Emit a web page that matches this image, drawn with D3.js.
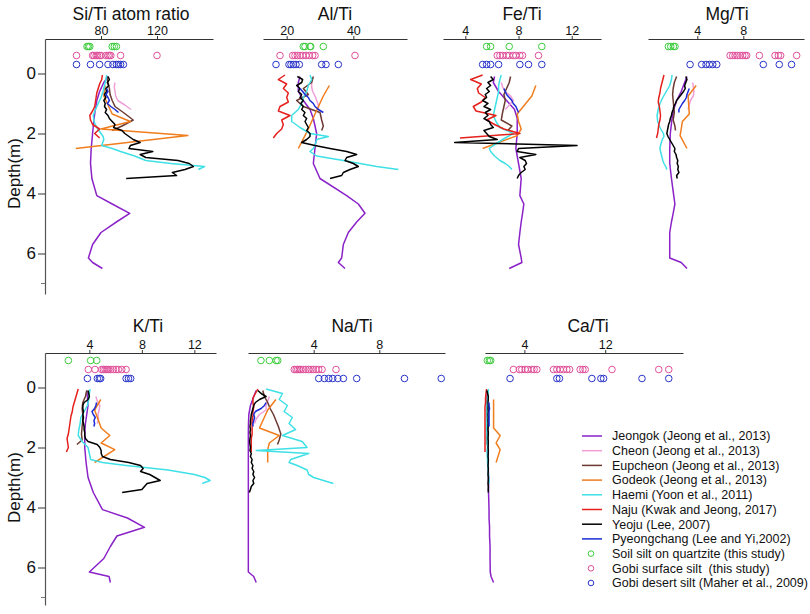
<!DOCTYPE html>
<html><head><meta charset="utf-8">
<script src="https://cdn.jsdelivr.net/npm/d3@7"></script>
<style>
body{margin:0;background:#fff;}
text{font-family:"Liberation Sans",Arial,Helvetica,sans-serif;fill:#111;}
</style>
</head><body>
<svg id="chart" width="810" height="614"></svg>
<script>
// ---------------- DATA ----------------
const siteNames = ["Jeongok (Jeong et al., 2013)","Cheon (Jeong et al., 2013)","Eupcheon (Jeong et al., 2013)","Godeok (Jeong et al., 2013)","Haemi (Yoon et al., 2011)","Naju (Kwak and Jeong, 2017)","Yeoju (Lee, 2007)","Pyeongchang (Lee and Yi,2002)"];
const siteKeys = ["jeongok","cheon","eupcheon","godeok","haemi","naju","yeoju","pyeongchang"];
const pointNames = ["Soil silt on quartzite (this study)","Gobi surface silt  (this study)","Gobi desert silt (Maher et al., 2009)"];
const pointKeys = ["soil","gobiSurface","gobiDesert"];
const pointDepths = [-0.9, -0.6, -0.3];

const depthJeongok = [0.1,0.3,0.6,0.9,1.2,1.5,2.0,2.5,3.0,3.5,4.07,4.35,4.66,4.95,5.3,5.7,6.15,6.3,6.5];
const depthCheon = [0.3,0.45,0.6,0.75,0.9,1.05,1.2];
const depthEupcheon = [0.1,0.3,0.5,0.7,0.9,1.1,1.3,1.55,1.75,1.9];
const depthGodeok = [0.4,0.75,1.35,1.6,1.85,2.07,2.5];
const depthHaemi = [0.05,0.2,0.4,0.6,0.8,1.0,1.2,1.4,1.6,1.8,2.0,2.1,2.2,2.4,2.5,2.6,2.75,2.9,3.0,3.1,3.2];
const depthNaju = [0.05,0.2,0.35,0.5,0.65,0.8,0.95,1.1,1.25,1.4,1.55,1.7,1.85,2.0,2.15];
const depthYeoju = [0.1,0.2,0.3,0.4,0.5,0.6,0.7,0.8,0.9,1.0,1.1,1.2,1.3,1.4,1.5,1.6,1.7,1.8,1.9,2.0,2.1,2.2,2.3,2.4,2.5,2.6,2.7,2.8,2.9,3.0,3.1,3.2,3.3,3.4,3.5];
const depthPyeongchang = [0.5,0.6,0.7,0.8,0.9,1.0,1.1,1.2,1.3];
const siteDepths = [depthJeongok,depthCheon,depthEupcheon,depthGodeok,depthHaemi,depthNaju,depthYeoju,depthPyeongchang];

const siTi = {
  jeongok:[85,82,79,77,76,75,74,73,72.5,73.5,77,88,100.5,91,80,74,71,74,81],
  cheon:[90,89.5,90,90.5,92,97,101.5],
  eupcheon:[84,85,86,86.5,88,90,96,103,95,88],
  godeok:[83,82,88,101,80,142,62],
  haemi:[84,83.5,82.5,81.5,80,78,76,74.5,75,77,80,81.5,82,80.5,88,94,104,112,130,154,149.5],
  naju:[81,80.5,79,78,77,76.5,76,75.5,74,72,72.5,74,79,75.5,79],
  yeoju:[85,86,84.5,85.5,83.5,84,82.5,83.5,82,83,82.5,84,83,85,86,88,90,89,95,97,100,103,108,101,100,117,108,112,135,143,146,140,131,134,98],
  pyeongchang:[84,85,83.5,85,86,84.5,87,90,92.5],
  soil:[70,71,72,88,89.5,91],
  gobiSurface:[62.5,74,75,76.5,77.5,79,80,83.5,85,86,87,94,120],
  gobiDesert:[62.5,72.5,79,85,88.5,91,92.5,94,96]
};
const alTi = {
  jeongok:[24,23.5,23.5,25,27,28,29,28.5,28,30,38,41.5,43.5,41,38.5,37,36.5,35.5,37.5],
  cheon:[27.5,27.5,27.8,28.5,29,29.5,29.5],
  eupcheon:[28,27.5,25,26.5,23,25,30,30.5,31,30.5],
  godeok:[32.8,31,28.5,27.5,26.5,25.5,23.5],
  haemi:[27,27.5,26.5,26,25,24.5,23.5,21.5,21.5,24,27,32.5,29,28.5,28,27,29,37,42,47,53.5],
  naju:[19.5,17.5,20,19,20.5,20,20.5,18,17.5,21,18.5,19,18.5,17,16],
  yeoju:[23.2,24.8,24.5,23,24,23.5,24.5,24,25,24.2,25,24.5,25.5,25,26,25.5,26,26.5,26,27,27,26,24.5,28.5,33,38,41,38,37.5,40,41.5,39,37,36.5,33],
  pyeongchang:[24,24.8,25.5,26.5,27,28,28.5,29.5,31],
  soil:[25,25.5,27,27.2,31],
  gobiSurface:[18,21.8,22.5,23.2,24,24.8,25.8,26.8,27.8,28.5,40.5],
  gobiDesert:[16.8,20.7,21.3,22,22.8,23.8,30.5,31.8,35.5]
};
const feTi = {
  jeongok:[6.2,6.1,6.5,7.1,7.7,7.9,7.9,7.8,8.0,8.2,8.1,8.4,8.3,8.2,8.1,8.0,8.2,8.25,7.3],
  cheon:[6.7,6.8,7.0,7.4,7.6,7.3,7.0],
  eupcheon:[7.4,7.3,7.1,6.9,7.0,6.9,6.8,6.7,7.5,7.2],
  godeok:[9.3,9.0,7.9,8.0,8.2,7.9,5.3],
  haemi:[6.7,6.6,6.5,6.5,6.4,6.3,6.2,6.1,6.3,6.6,7.6,7.2,6.8,6.1,5.8,5.9,6.2,6.6,7.0,7.3,7.5],
  naju:[5.3,4.4,5.2,4.9,5.0,5.5,5.2,4.6,4.8,6.3,5.6,6.2,6.9,8.1,3.6],
  yeoju:[5.9,6.1,5.7,5.9,5.6,5.8,5.5,5.6,5.3,5.7,5.4,5.9,5.5,5.7,5.4,5.8,5.9,6.1,5.4,5.6,5.8,6.4,3.2,12.4,8.0,7.9,9.3,8.1,8.5,8.6,8.4,8.5,8.2,8.0,7.9],
  pyeongchang:[6.9,7.0,7.1,7.3,7.5,7.6,7.8,7.9,8.0],
  soil:[5.6,5.9,7.3,9.75],
  gobiSurface:[6.4,6.6,6.8,7.1,7.3,7.6,7.8,8.1,8.3,9.5],
  gobiDesert:[5.3,5.6,5.9,6.5,8.1,8.75,9.75]
};
const mgTi = {
  jeongok:[3.1,2.9,2.6,2.2,1.95,1.8,1.65,1.6,1.6,1.75,1.95,2.05,1.9,1.75,1.6,1.6,1.6,2.6,3.1],
  cheon:[3.6,3.65,3.7,3.65,3.4,3.3,3.2],
  eupcheon:[2.2,2.0,1.9,1.85,1.9,1.95,2.0,1.9,2.05,2.1],
  godeok:[3.9,3.2,3.3,2.7,2.6,2.5,3.1],
  haemi:[1.8,1.75,1.6,1.3,1.0,0.75,0.6,0.5,0.55,0.75,1.05,1.1,0.95,0.8,0.75,0.8,0.9,1.0,1.1,1.25,1.35],
  naju:[1.1,1.0,0.9,0.8,0.75,0.65,0.6,0.7,0.75,0.8,0.75,0.65,0.6,0.55,0.45],
  yeoju:[3.0,3.1,3.0,2.9,2.95,2.8,2.6,2.4,2.2,2.1,1.95,1.9,1.8,1.75,1.65,1.6,1.5,1.45,1.4,1.35,1.45,1.6,1.75,1.9,2.05,2.0,2.15,2.2,2.3,2.25,2.35,2.3,2.4,2.2,2.25],
  pyeongchang:[3.3,3.2,3.1,3.05,2.9,2.7,2.55,2.4,2.4],
  soil:[1.48,1.69,1.92,2.06],
  gobiSurface:[6.85,7.08,7.28,7.48,7.71,7.95,8.15,8.29,9.4,10.76,11.05,11.25,12.64],
  gobiDesert:[3.37,4.38,4.76,5.05,5.34,5.69,9.74,11.13,12.2]
};
const kTi = {
  jeongok:[3.8,3.85,3.9,3.8,3.7,3.65,3.65,3.75,3.9,4.3,5.0,6.9,8.2,6.1,5.6,5.1,4.0,5.5,5.6],
  cheon:[4.5,4.6,4.8,4.75,4.65,4.7,4.6],
  eupcheon:[3.8,3.7,3.5,3.45,3.5,3.5,3.45,3.4,3.45,3.05],
  godeok:[4.87,4.4,4.9,5.56,4.9,5.94,4.4],
  haemi:[4.05,4.0,3.95,3.85,3.6,3.35,3.3,3.2,3.15,3.45,3.9,3.95,4.0,4.1,5.0,6.8,10.0,12.0,12.8,13.2,12.6],
  naju:[3.15,3.05,2.95,2.85,2.75,2.7,2.6,2.55,2.5,2.45,2.4,2.3,2.35,2.4,2.25],
  yeoju:[3.9,3.95,4.0,3.9,3.6,3.5,3.5,3.55,3.5,3.55,3.5,3.55,3.6,3.6,3.65,3.65,3.7,3.9,4.6,4.8,4.9,4.9,5.0,5.6,7.0,7.9,8.1,7.9,8.6,9.0,9.4,8.4,8.2,8.0,6.5],
  pyeongchang:[4.55,4.5,4.4,4.2,4.3,4.45,4.35,4.4,4.35],
  soil:[2.4,4.1,4.56],
  gobiSurface:[3.92,4.43,4.94,5.07,5.2,5.32,5.45,5.63,5.83,6.03,6.21,6.47,6.8],
  gobiDesert:[3.85,4.61,4.76,4.86,6.8,6.98,7.15]
};
const naTi = {
  jeongok:[0.5,0.35,0.15,0.05,0.03,0.02,0.02,0.02,0.02,0.02,0.02,0.02,0.02,0.02,0.02,0.02,0.02,0.35,0.5],
  cheon:[1.3,1.2,1.1,1.1,0.7,0.5,0.4],
  eupcheon:[0.9,1.0,1.2,1.35,1.55,1.7,1.85,2.0,1.9,1.8],
  godeok:[1.7,1.2,0.7,1.9,1.3,1.2,1.2],
  haemi:[1.1,2.1,1.9,2.4,2.2,2.7,2.5,2.9,2.1,3.3,3.6,0.5,3.7,2.6,2.5,3.0,3.6,3.7,4.0,4.6,5.2],
  naju:[0.6,0.45,0.3,0.3,0.35,0.3,0.3,0.25,0.25,0.25,0.25,0.2,0.2,0.2,0.2],
  yeoju:[0.6,0.8,1.1,0.7,0.45,0.35,0.3,0.25,0.2,0.18,0.15,0.15,0.12,0.15,0.12,0.15,0.12,0.1,0.12,0.15,0.12,0.2,0.15,0.25,0.2,0.3,0.25,0.35,0.3,0.4,0.3,0.35,0.2,0.15,0.08],
  pyeongchang:[1.1,1.0,0.8,0.45,0.35,0.4,0.35,0.3,0.3],
  soil:[0.79,1.3,1.71,1.81],
  gobiSurface:[2.82,2.93,3.03,3.13,3.23,3.37,3.53,3.7,3.84,3.98,4.14,4.31,4.51,5.36],
  gobiDesert:[4.31,4.65,4.92,5.16,5.47,5.81,6.62,9.53,11.77]
};
const caTi = {
  jeongok:[0.35,0.3,0.3,0.3,0.35,0.35,0.4,0.4,0.45,0.45,0.5,0.5,0.55,0.55,0.6,0.6,0.62,0.7,0.95],
  cheon:[0.3,0.3,0.35,0.35,0.3,0.3,0.3],
  eupcheon:[0.4,0.35,0.3,0.3,0.3,0.3,0.3,0.3,0.3,0.3],
  godeok:[0.95,0.95,0.95,1.6,1.2,1.6,1.2],
  haemi:[0.45,0.4,0.35,0.3,0.3,0.3,0.25,0.25,0.3,0.3,0.35,0.3,0.3,0.35,0.35,0.4,0.4,0.45,0.45,0.5,0.5],
  naju:[0.25,0.2,0.15,0.15,0.1,0.1,0.1,0.1,0.1,0.1,0.1,0.1,0.1,0.1,0.1],
  yeoju:[0.27,0.35,0.43,0.42,0.4,0.42,0.4,0.43,0.4,0.42,0.4,0.43,0.42,0.4,0.43,0.42,0.4,0.43,0.42,0.4,0.43,0.42,0.4,0.43,0.42,0.4,0.43,0.42,0.4,0.43,0.42,0.4,0.43,0.42,0.43],
  pyeongchang:[0.5,0.5,0.55,0.5,0.5,0.5,0.5,0.5,0.5],
  soil:[0.33,0.53,0.66],
  gobiSurface:[2.91,3.51,3.74,4.07,4.33,4.73,4.96,5.23,6.88,7.21,7.54,7.87,8.2,8.47,9.52,9.79,10.02,12.67,17.3,18.29],
  gobiDesert:[2.58,7.21,7.47,10.68,11.57,11.84,15.64,18.29]
};
const depthTicks = [0,2,4,6];

// ---------------- STYLE / LAYOUT ----------------
const siteColors = ["#8a22c8","#ef9fd8","#6b3a32","#f07d1e","#3fe0e6","#e5211d","#000000","#1b2bd6"];
const pointColors = ["#3ccc3c","#e0509a","#2a34c8"];
const rows = [{top:39, bottom:294, titleY:19.5}, {top:353, bottom:605, titleY:332}];
const depthDomains = [[-1.15,7.35],[-1.15,7.25]];
const panels = [
  {title:"Si/Ti atom ratio", data:siTi, domain:[40,160], ticks:[80,120], row:0, x0:45, x1:213, tx:131, yAxis:true},
  {title:"Al/Ti", data:alTi, domain:[12.9,56.1], ticks:[20,40], row:0, x0:263, x1:407, tx:335},
  {title:"Fe/Ti", data:feTi, domain:[2.32,14.2], ticks:[4,8,12], row:0, x0:443, x1:601, tx:522},
  {title:"Mg/Ti", data:mgTi, domain:[-0.29,13.28], ticks:[4,8], row:0, x0:648, x1:804, tx:727},
  {title:"K/Ti", data:kTi, domain:[0.62,13.65], ticks:[4,8,12], row:1, x0:45, x1:216, tx:148, yAxis:true},
  {title:"Na/Ti", data:naTi, domain:[0,12], ticks:[4,8], row:1, x0:248, x1:445, tx:352},
  {title:"Ca/Ti", data:caTi, domain:[0.1,19.7], ticks:[4,12], row:1, x0:485, x1:683, tx:588}
];

const svg = d3.select("#chart");
svg.append("rect").attr("width",810).attr("height",614).attr("fill","#fff");

panels.forEach(p => {
  const r = rows[p.row];
  const x = d3.scaleLinear().domain(p.domain).range([p.x0, p.x1]);
  const y = d3.scaleLinear().domain(depthDomains[p.row]).range([r.top, r.bottom]);
  const g = svg.append("g");

  // top axis
  const ax = g.append("g").attr("transform",`translate(0,${r.top})`)
    .call(d3.axisTop(x).tickValues(p.ticks).tickSize(3).tickSizeOuter(0).tickPadding(1.5));
  ax.select(".domain").attr("stroke","#333").attr("stroke-width",1.2);
  ax.selectAll(".tick line").attr("stroke","#333");
  ax.selectAll(".tick text").attr("font-size",12.5).attr("fill","#111")
    .style("font-family","'Liberation Sans',Arial,sans-serif");

  // title
  g.append("text").attr("x",p.tx).attr("y",r.titleY).attr("text-anchor","middle")
    .attr("font-size",17.5).text(p.title);

  if (p.yAxis) {
    const ay = g.append("g").attr("transform",`translate(${p.x0},0)`)
      .call(d3.axisLeft(y).tickValues(depthTicks).tickSize(7).tickSizeOuter(0).tickPadding(2).tickFormat(d3.format("d")));
    ay.select(".domain").attr("stroke","#555").attr("stroke-width",1.2);
    ay.selectAll(".tick line").attr("stroke","#333");
    ay.selectAll(".tick text").attr("font-size",17).attr("fill","#111")
      .style("font-family","'Liberation Sans',Arial,sans-serif");
    g.append("line").attr("x1",p.x0-4).attr("x2",p.x0).attr("y1",y(7)).attr("y2",y(7))
      .attr("stroke","#777");
    g.append("text").attr("transform",`translate(${16},${y(0)+100}) rotate(-90)`)
      .attr("text-anchor","middle").attr("dominant-baseline","middle")
      .attr("font-size",17).text("Depth(m)");
  }

  // lines
  const line = d3.line().x(d => x(d.v)).y(d => y(d.d));
  siteKeys.forEach((k,i) => {
    const vals = p.data[k];
    const pts = siteDepths[i].map((d,j) => ({d:d, v:vals[j]}));
    g.append("path").datum(pts).attr("d",line).attr("fill","none")
      .attr("stroke",siteColors[i]).attr("stroke-width",1.5).attr("stroke-linejoin","round");
  });

  // markers
  pointKeys.forEach((k,i) => {
    g.selectAll(null).data(p.data[k]).enter().append("circle")
      .attr("cx",v => x(v)).attr("cy",y(pointDepths[i])).attr("r",3.3)
      .attr("fill","none").attr("stroke",pointColors[i]).attr("stroke-width",1);
  });
});

// legend
const lg = svg.append("g");
const legendY0 = 436, legendStep = 14.7;
siteNames.forEach((n,i) => {
  const yy = legendY0 + i*legendStep;
  lg.append("line").attr("x1",582).attr("x2",602).attr("y1",yy).attr("y2",yy)
    .attr("stroke",siteColors[i]).attr("stroke-width",1.5);
  lg.append("text").attr("x",612).attr("y",yy).attr("dy","0.35em").attr("font-size",12.5).text(n);
});
pointNames.forEach((n,i) => {
  const yy = legendY0 + (siteNames.length+i)*legendStep;
  lg.append("circle").attr("cx",591).attr("cy",yy).attr("r",2.8)
    .attr("fill","none").attr("stroke",pointColors[i]).attr("stroke-width",1);
  lg.append("text").attr("x",612).attr("y",yy).attr("dy","0.35em").attr("font-size",12.5)
    .style("white-space","pre").text(n);
});
</script>
</body></html>
